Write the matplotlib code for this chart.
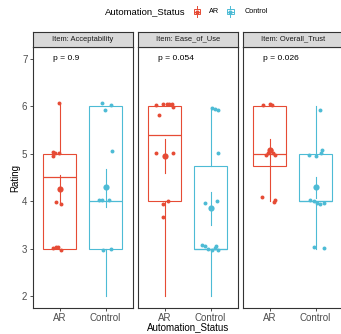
import matplotlib
matplotlib.use("Agg")
import matplotlib.pyplot as plt
from matplotlib.patches import Rectangle
from matplotlib.lines import Line2D

plt.rcParams['font.family'] = ['Liberation Sans', 'DejaVu Sans']

# ---------------- data ----------------
items = ["Acceptability", "Ease_of_Use", "Overall_Trust"]
groups = ["AR", "Control"]
p_values = ["0.9", "0.054", "0.026"]

ar_values = [
    [6.07, 5.04, 5.01, 5.01, 4.95, 3.98, 3.95, 3.02, 3.04, 3.05, 2.98],
    [6.02, 6.04, 6.06, 6.06, 6.04, 5.99, 5.81, 5.01, 5.01, 3.94, 4.00, 3.67],
    [6.02, 6.04, 6.02, 5.01, 5.08, 5.02, 4.97, 4.97, 4.09, 3.98, 4.03],
]
ar_jitter = [
    [-0.015, -0.146, -0.11, -0.015, -0.146, -0.088, 0.022, -0.16, -0.088, -0.036, 0.022],
    [-0.197, -0.036, 0.036, 0.095, 0.146, 0.182, -0.124, -0.197, 0.168, -0.036, 0.073, -0.051],
    [-0.153, -0.007, 0.044, -0.044, 0.015, 0.066, 0.117, -0.08, -0.175, 0.088, 0.117],
]
control_values = [
    [6.07, 6.02, 5.93, 5.06, 4.03, 4.03, 4.04, 2.97, 3.00],
    [5.97, 5.94, 5.93, 5.01, 3.97, 4.00, 3.09, 3.07, 3.00, 2.97, 3.01, 2.97, 3.07],
    [5.93, 4.97, 4.95, 5.08, 5.01, 4.03, 4.00, 3.96, 3.95, 3.97, 3.04, 3.02],
]
control_jitter = [
    [-0.088, 0.11, -0.022, 0.146, -0.146, -0.088, 0.073, -0.051, 0.11],
    [0.022, 0.095, 0.168, 0.168, -0.124, 0.131, -0.197, -0.124, -0.051, 0.022, 0.095, 0.168, 0.117],
    [0.088, -0.153, 0.015, 0.139, 0.117, -0.117, -0.044, 0.029, 0.102, 0.175, -0.044, 0.19],
]

# box statistics (per item)
ar_q1 = [3.0, 4.0, 4.75]
ar_med = [4.52, 5.40, 5.0]
ar_q3 = [5.0, 6.0, 6.0]
ar_whislo = [3.0, 2.0, 4.0]
ar_whishi = [6.07, 6.0, 6.0]
control_q1 = [3.0, 3.0, 4.0]
control_med = [4.0, 3.0, 4.0]
control_q3 = [6.0, 4.75, 5.0]
control_whislo = [2.0, 2.0, 3.0]
control_whishi = [6.0, 5.99, 6.0]

# mean +/- SE
ar_mean = [4.26, 4.96, 5.08]
ar_err_lo = [3.96, 4.59, 4.76]
ar_err_hi = [4.55, 5.32, 5.32]
control_mean = [4.31, 3.86, 4.30]
control_err_lo = [3.89, 3.50, 4.07]
control_err_hi = [4.69, 4.20, 4.52]

y_ticks = [2, 3, 4, 5, 6, 7]

# ---------------- style ----------------
colors = {"AR": "#E64B35", "Control": "#4DBBD5"}
W, H = 341, 334
fig = plt.figure(figsize=(W / 100, H / 100), dpi=100)

def fx(px):
    return px / W

def fy(py):
    return 1 - py / H

panel_lefts = [32.5, 137.5, 242.5]
panel_w = 100.5
panel_top, panel_bot = 47.0, 308.3
strip_top = 31.5
border_col = "#333333"

for i, item in enumerate(items):
    L = panel_lefts[i]
    ax = fig.add_axes([fx(L), fy(panel_bot), panel_w / W, (panel_bot - panel_top) / H])
    ax.set_xlim(0.4, 2.6)
    ax.set_ylim(1.75, 7.25)
    for sp in ax.spines.values():
        sp.set_color(border_col)
        sp.set_linewidth(0.8)
    ax.set_facecolor("white")

    stats_groups = [
        ("AR", 1, ar_q1, ar_med, ar_q3, ar_whislo, ar_whishi, ar_values, ar_jitter,
         ar_mean, ar_err_lo, ar_err_hi),
        ("Control", 2, control_q1, control_med, control_q3, control_whislo, control_whishi,
         control_values, control_jitter, control_mean, control_err_lo, control_err_hi),
    ]
    for (g, pos, q1, med, q3, lo, hi, vals, jit, mn, elo, ehi) in stats_groups:
        c = colors[g]
        st = dict(med=med[i], q1=q1[i], q3=q3[i], whislo=lo[i], whishi=hi[i], fliers=[])
        ax.bxp([st], positions=[pos], widths=0.72, showcaps=False, showfliers=False,
               patch_artist=True,
               boxprops=dict(facecolor="none", edgecolor=c, linewidth=0.8),
               medianprops=dict(color=c, linewidth=0.9),
               whiskerprops=dict(color=c, linewidth=0.8),
               manage_ticks=False)
        xs = [pos + j for j in jit[i]]
        ax.scatter(xs, vals[i], s=8, color=c, linewidths=0, zorder=3)
        ax.plot([pos, pos], [elo[i], ehi[i]], color=c, linewidth=0.8, zorder=3)
        ax.scatter([pos], [mn[i]], s=20, color=c, linewidths=0, zorder=4)

    ax.text(0.84, 7.0, "p = " + p_values[i], fontsize=6.1, ha="left", va="center",
            color="black")

    ax.set_xticks([1, 2])
    ax.set_xticklabels(groups, fontsize=7, color="#4D4D4D")
    ax.set_yticks(y_ticks)
    if i == 0:
        ax.set_yticklabels([str(t) for t in y_ticks], fontsize=7, color="#4D4D4D")
        ax.tick_params(axis="y", length=2.2, width=0.6, color=border_col, pad=1.5)
    else:
        ax.set_yticklabels([])
        ax.tick_params(axis="y", length=0)
    ax.tick_params(axis="x", length=2.2, width=0.6, color=border_col, pad=1.5)

    # strip
    sax = fig.add_axes([fx(L), fy(panel_top), panel_w / W, (panel_top - strip_top) / H])
    sax.set_facecolor("#D9D9D9")
    sax.set_xticks([])
    sax.set_yticks([])
    for sp in sax.spines.values():
        sp.set_color(border_col)
        sp.set_linewidth(0.8)
    sax.text(0.5, 0.5, "Item: " + item, fontsize=5.4, ha="center", va="center",
             color="#1A1A1A", transform=sax.transAxes)

# axis titles
fig.text(fx(15), fy((panel_top + panel_bot) / 2), "Rating", rotation=90, fontsize=7,
         ha="center", va="center")
fig.text(fx(188), fy(327.5), "Automation_Status", fontsize=7, ha="center", va="center")

# legend
lax = fig.add_axes([0, 0, 1, 1], facecolor="none")
lax.set_xlim(0, W)
lax.set_ylim(H, 0)
lax.axis("off")
lax.text(186, 11.5, "Automation_Status", fontsize=6.8, ha="right", va="center")
for g, kx, tx in [("AR", 196.8, 209), ("Control", 230.3, 244.5)]:
    c = colors[g]
    lax.add_patch(Rectangle((kx - 3.3, 8.7), 6.6, 5.6, facecolor="white", edgecolor=c,
                            linewidth=0.7))
    lax.add_line(Line2D([kx, kx], [6.0, 8.7], color=c, linewidth=0.7))
    lax.add_line(Line2D([kx, kx], [14.3, 17.0], color=c, linewidth=0.7))
    lax.add_line(Line2D([kx - 3.3, kx + 3.3], [11.5, 11.5], color=c, linewidth=0.7))
    lax.plot([kx], [11.5], marker="o", markersize=3.0, color=c, markeredgewidth=0)
    lax.text(tx, 11.5, g, fontsize=5.2, ha="left", va="center")

fig.savefig("out.png", dpi=100)
